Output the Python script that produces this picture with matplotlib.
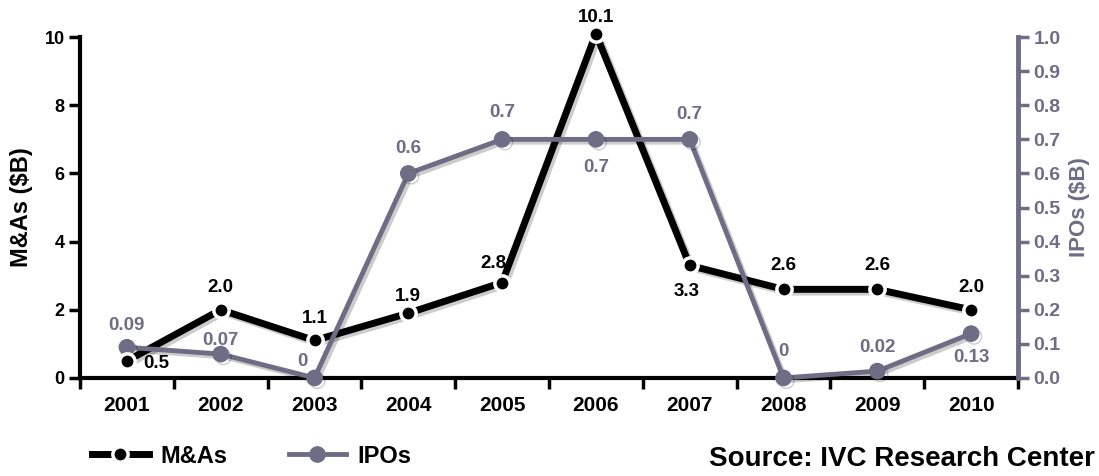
import matplotlib
matplotlib.use('Agg')
import matplotlib.pyplot as plt
import matplotlib.patheffects as pe
from matplotlib.lines import Line2D

plt.rcParams['font.family'] = ['Liberation Sans', 'DejaVu Sans']
plt.rcParams['font.weight'] = 'bold'

years = ['2001', '2002', '2003', '2004', '2005', '2006', '2007', '2008', '2009', '2010']
ma = [0.5, 2.0, 1.1, 1.9, 2.8, 10.1, 3.3, 2.6, 2.6, 2.0]
ipo = [0.09, 0.07, 0, 0.6, 0.7, 0.7, 0.7, 0, 0.02, 0.13]
ma_text = ['0.5', '2.0', '1.1', '1.9', '2.8', '10.1', '3.3', '2.6', '2.6', '2.0']
ipo_text = ['0.09', '0.07', '0', '0.6', '0.7', '0.7', '0.7', '0', '0.02', '0.13']

# label offsets in points (dx, dy)
ma_off = [(21, -2), (0, 16), (0, 16), (0, 12), (-6, 14), (0, 12), (-2, -19), (0, 17), (0, 17), (0, 16)]
ipo_off = [(0, 16), (0, 10), (-9, 12), (0, 18), (0, 19), (0, -20), (0, 18), (0, 19), (0, 17), (0, -17)]

black = '#000000'
grey = '#6f6d86'

fig = plt.figure(figsize=(10.99, 4.76), dpi=100)
ax = fig.add_axes([0.0728, 0.206, 0.8535, 0.716])
ax2 = ax.twinx()

x = list(range(len(years)))
shadow = [pe.SimpleLineShadow(offset=(2, -2), shadow_color='#000000', alpha=0.2), pe.Normal()]

ax.plot(x, ma, color=black, lw=5, zorder=2, path_effects=shadow, clip_on=False)
ax2.plot(x, ipo, color=grey, lw=3.5, marker='o', ms=11, zorder=2, path_effects=shadow, clip_on=False)
# M&A markers on top of everything, still in M&A data coordinates
ax2.plot(x, ma, transform=ax.transData, color=black, lw=0, marker='o', ms=11,
         markeredgecolor='white', markeredgewidth=2.5, zorder=3, clip_on=False)

ax.set_xlim(-0.5, 9.5)
ax.set_ylim(0, 10)
ax2.set_ylim(0, 1.0)

ax.set_xticks([i - 0.5 for i in range(len(years) + 1)])
ax.set_xticklabels([])
ax.set_xticks(x, minor=True)
ax.set_xticklabels(years, minor=True, fontsize=15, fontweight='bold')
ax.tick_params(axis='x', which='minor', length=0, pad=13)
ax.tick_params(axis='x', which='major', length=8, width=2.5, direction='out')

ax.set_yticks([0, 2, 4, 6, 8, 10])
ax.tick_params(axis='y', length=8, width=2.5, labelsize=13, pad=3)
ax2.set_yticks([i / 10 for i in range(11)])
ax2.set_yticklabels([f'{i / 10:.1f}' for i in range(11)])
ax2.tick_params(axis='y', length=8, width=2.5, labelsize=14, colors=grey, pad=3)

ax.spines['top'].set_visible(False)
ax2.spines['top'].set_visible(False)
ax.spines['right'].set_visible(False)
ax2.spines['left'].set_visible(False)
ax2.spines['bottom'].set_visible(False)
ax.spines['left'].set_linewidth(3)
ax.spines['bottom'].set_linewidth(3)
ax2.spines['right'].set_linewidth(3.5)
ax2.spines['right'].set_color(grey)

ax.set_ylabel('M&As ($B)', fontsize=17, fontweight='bold', labelpad=8)
ax2.set_ylabel('IPOs ($B)', fontsize=16, fontweight='bold', color=grey, labelpad=6)

for i in x:
    ax.annotate(ma_text[i], (i, ma[i]), xytext=ma_off[i], textcoords='offset points',
                ha='center', va='center', fontsize=13.5, fontweight='bold', color=black,
                zorder=5, annotation_clip=False)
    ax2.annotate(ipo_text[i], (i, ipo[i]), xytext=ipo_off[i], textcoords='offset points',
                 ha='center', va='center', fontsize=13.5, fontweight='bold', color=grey,
                 zorder=5, annotation_clip=False)

handles = [
    Line2D([0], [0], color=black, lw=5, marker='o', ms=11, markeredgecolor='white', markeredgewidth=2.5),
    Line2D([0], [0], color=grey, lw=3.5, marker='o', ms=11),
]
fig.legend(handles, ['M&As', 'IPOs'], loc='center left', bbox_to_anchor=(0.0837, 0.042), ncol=2,
           frameon=False, borderpad=0, borderaxespad=0, handlelength=2.4, handletextpad=0.5,
           columnspacing=2.6, prop={'size': 17, 'weight': 'bold'})

fig.text(0.9964, 0.036, 'Source: IVC Research Center', ha='right', va='center', fontsize=20, fontweight='bold')

fig.savefig('out.png', dpi=100)
